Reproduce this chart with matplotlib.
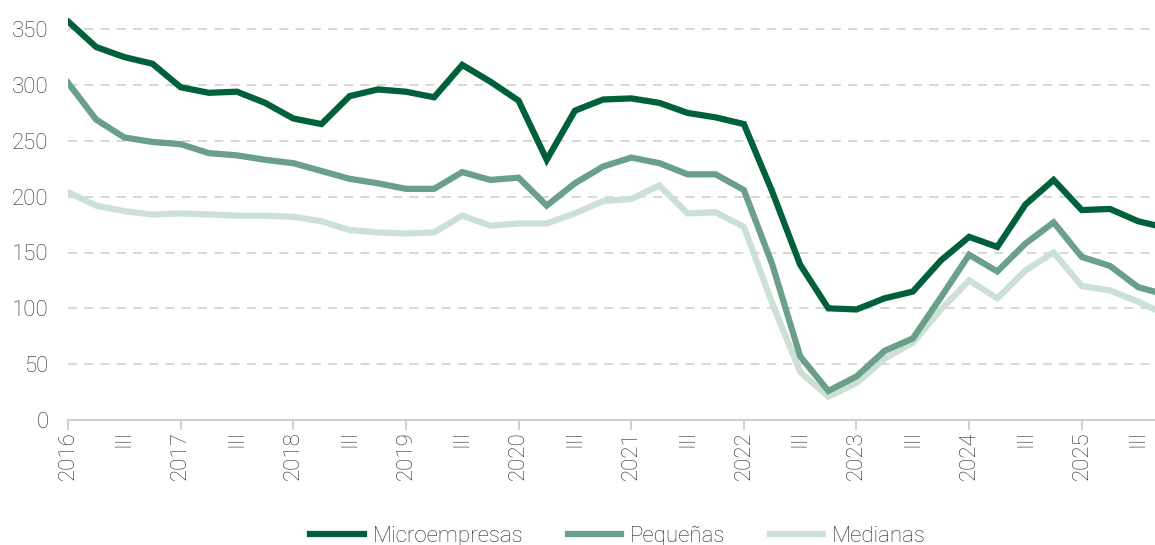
import matplotlib
matplotlib.use("Agg")
import matplotlib.pyplot as plt
import numpy as np

plt.rcParams['font.family'] = ['Roboto', 'DejaVu Sans']
plt.rcParams['font.weight'] = 'light'

# trimestral, 2016 T1 .. 2025 T4
micro = [357, 334, 325, 319, 298, 293, 294, 284, 270, 265, 290, 296,
         294, 289, 318, 303, 286, 233, 277, 287, 288, 284, 275, 271,
         265, 205, 139, 100, 99, 109, 115, 143, 164, 155, 193, 215,
         188, 189, 178, 172]
pequenas = [302, 269, 253, 249, 247, 239, 237, 233, 230, 223, 216, 212,
            207, 207, 222, 215, 217, 192, 212, 227, 235, 230, 220, 220,
            206, 140, 57, 26, 39, 62, 73, 110, 148, 133, 158, 177,
            146, 138, 119, 112]
medianas = [204, 192, 187, 184, 185, 184, 183, 183, 182, 178, 170, 168,
            167, 168, 183, 174, 176, 176, 185, 196, 198, 210, 185, 186,
            173, 105, 43, 21, 33, 55, 69, 99, 125, 109, 134, 150,
            120, 116, 106, 94]
years = ['2016', '2017', '2018', '2019', '2020', '2021', '2022', '2023', '2024', '2025']

x = np.arange(len(micro))

fig = plt.figure(figsize=(11.55, 5.45), dpi=100)
ax = fig.add_axes([68 / 1155, 1 - 420 / 545, 1 - 68 / 1155, 402 / 545])

ax.plot(x, medianas, color='#cce0d6', lw=4.5, label='Medianas', solid_joinstyle='miter', zorder=3)
ax.plot(x, pequenas, color='#6a9f8a', lw=4.5, label='Pequeñas', solid_joinstyle='miter', zorder=4)
ax.plot(x, micro, color='#00603a', lw=4.5, label='Microempresas', solid_joinstyle='miter', zorder=5)

ax.set_xlim(0, 38.6)
ax.set_ylim(0, 360)
ax.set_yticks(range(0, 351, 50))
for v in range(50, 351, 50):
    ax.axhline(v, color='#d4d4d4', lw=1.3, ls=(0, (5, 4)), zorder=1)

txt = '#2a2a2a'
ax.set_xticks(np.arange(0, 40, 4))
ax.set_xticklabels(years, rotation=90)
ax.set_xticks(np.arange(2, 40, 4), minor=True)
ax.set_xticklabels(['III'] * 10, minor=True, rotation=90)
ax.tick_params(axis='x', which='major', length=7, color='#cccccc', width=1.3,
               labelsize=16, labelcolor=txt, pad=1)
ax.tick_params(axis='x', which='minor', length=0, labelsize=16, labelcolor=txt, pad=7)
ax.tick_params(axis='y', length=0, labelsize=16, labelcolor=txt, pad=14)

for s in ['top', 'right', 'left']:
    ax.spines[s].set_visible(False)
ax.spines['bottom'].set_color('#cccccc')
ax.spines['bottom'].set_linewidth(1.3)

h, l = ax.get_legend_handles_labels()
fig.legend(h[::-1], l[::-1], loc='center', bbox_to_anchor=(0.535, 0.016), ncol=3,
           frameon=False, fontsize=16, handlelength=2.4, handletextpad=0.4,
           columnspacing=2.0, labelcolor=txt)

fig.savefig('out.png', dpi=100)
